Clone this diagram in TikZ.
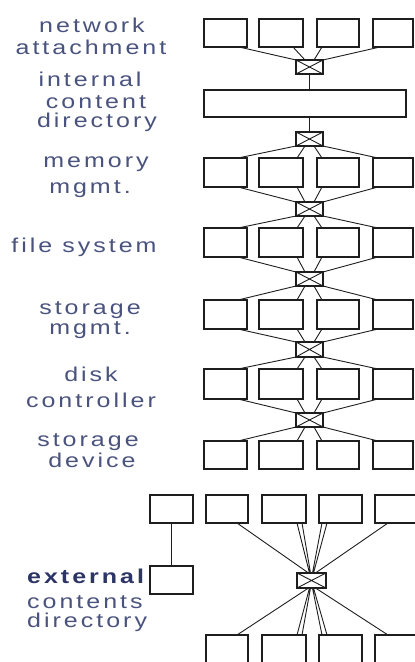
\documentclass[tikz,border=0pt]{standalone}
\usepackage{fontspec}
\setmainfont{Liberation Sans}[LetterSpace=12]
\usepackage{graphicx}
\definecolor{lbl}{HTML}{4A537E}
\definecolor{extc}{HTML}{2C3566}
\definecolor{ink}{HTML}{1E1E1E}
\newcommand\widetxt[1]{\scalebox{1.25}[1]{#1}}
\newcommand\mybox[5]{\node[box,minimum width={(#4)-(#2)},minimum height={(#5)-(#3)}] (#1) at ({((#2)+(#4))/2},{((#3)+(#5))/2}) {};}
\newcommand\myswitch[3]{\node[box,minimum width=27,minimum height={(#3)-(#2)}] (#1) at (309.5,{((#2)+(#3))/2}) {};
  \draw[wire] (#1.north west) -- (#1.south east) (#1.north east) -- (#1.south west);}
\begin{document}
\begin{tikzpicture}[x=1pt,y=-1pt,
  box/.style={draw=ink,line width=1.2pt,inner sep=0pt,outer sep=0pt,rectangle},
  wire/.style={draw=ink,line width=0.9pt},
  lab/.style={text=lbl,font=\fontsize{20}{22}\selectfont,anchor=base,inner sep=0pt},
  labl/.style={lab,anchor=base west}]
\clip (0,0) rectangle (415,662);
\fill[white] (0,0) rectangle (415,662);
% ---- upper stack ----
\mybox{n1}{204}{19}{247}{47}\mybox{n2}{259}{19}{303}{47}\mybox{n3}{317}{19}{359}{47}\mybox{n4}{373}{19}{413}{47}
\myswitch{s1}{60}{74}
\mybox{dir}{204}{90}{406}{117}
\myswitch{s2}{132}{146}
\mybox{m1}{204}{158}{247}{187}\mybox{m2}{259}{158}{303}{187}\mybox{m3}{317}{158}{359}{187}\mybox{m4}{373}{158}{413}{187}
\myswitch{s3}{202}{216}
\mybox{f1}{204}{228}{247}{257}\mybox{f2}{259}{228}{303}{257}\mybox{f3}{317}{228}{359}{257}\mybox{f4}{373}{228}{413}{257}
\myswitch{s4}{272}{286}
\mybox{g1}{204}{300}{247}{329}\mybox{g2}{259}{300}{303}{329}\mybox{g3}{317}{300}{359}{329}\mybox{g4}{373}{300}{413}{329}
\myswitch{s5}{342}{357}
\mybox{k1}{204}{369}{247}{399}\mybox{k2}{259}{369}{303}{399}\mybox{k3}{317}{369}{359}{399}\mybox{k4}{373}{369}{413}{399}
\myswitch{s6}{413}{427}
\mybox{d1}{204}{441}{247}{469}\mybox{d2}{259}{441}{303}{469}\mybox{d3}{317}{441}{359}{469}\mybox{d4}{373}{441}{413}{469}
% connectors upper stack
\draw[wire] ([xshift=-8pt]n1.south east) -- (s1.north west)
            ([xshift=-10pt]n2.south east) -- ([xshift=-4.5pt]s1.north)
            ([xshift=5pt]n3.south west) -- ([xshift=4.5pt]s1.north)
            ([xshift=7pt]n4.south west) -- (s1.north east);
\draw[wire] (s1.south) -- (dir.north -| s1.south);
\draw[wire] (dir.south -| s2.north) -- (s2.north);
\foreach \s/\r in {s2/m,s3/f,s4/g,s5/k,s6/d}{
  \draw[wire] (\s.south west) -- ([xshift=-9pt]\r1.north east)
              ([xshift=-4.5pt]\s.south) -- ([xshift=-6pt]\r2.north east)
              ([xshift=4.5pt]\s.south) -- ([xshift=5pt]\r3.north west)
              (\s.south east) -- ([xshift=5pt]\r4.north west);}
\foreach \r/\s in {m/s3,f/s4,g/s5,k/s6}{
  \draw[wire] ([xshift=-9pt]\r1.south east) -- (\s.north west)
              ([xshift=-6pt]\r2.south east) -- ([xshift=-4.5pt]\s.north)
              ([xshift=5pt]\r3.south west) -- ([xshift=4.5pt]\s.north)
              ([xshift=5pt]\r4.south west) -- (\s.north east);}
% ---- lower section ----
\mybox{t1}{150}{495}{193}{523}\mybox{t2}{206}{495}{248}{523}\mybox{t3}{262}{495}{306}{523}\mybox{t4}{319}{495}{362}{523}\mybox{t5}{375}{495}{418}{523}
\mybox{ecd}{150}{566}{193}{594}
\node[box,minimum width=29,minimum height=15] (sx) at (311.5,580.5) {};
\draw[wire] (sx.north west) -- (sx.south east) (sx.north east) -- (sx.south west);
\mybox{b1}{206}{635}{248}{690}\mybox{b2}{262}{635}{306}{690}\mybox{b3}{319}{635}{362}{690}\mybox{b4}{375}{635}{418}{690}
\draw[wire] (t1.south) -- (ecd.north);
\draw[wire] ([xshift=-11pt]t2.south east) -- ([xshift=-3pt]sx.north)
            ([xshift=-9pt]t3.south east) -- ([xshift=-2pt]sx.north)
            ([xshift=-4pt]t3.south east) -- ([xshift=-1pt]sx.north)
            ([xshift=3pt]t4.south west) -- ([xshift=1pt]sx.north)
            ([xshift=8pt]t4.south west) -- ([xshift=2pt]sx.north)
            ([xshift=13pt]t5.south west) -- ([xshift=4pt]sx.north);
\draw[wire] ([xshift=-3pt]sx.south) -- ([xshift=-11pt]b1.north east)
            ([xshift=-2pt]sx.south) -- ([xshift=-9pt]b2.north east)
            ([xshift=-1pt]sx.south) -- ([xshift=-4pt]b2.north east)
            ([xshift=1pt]sx.south) -- ([xshift=3pt]b3.north west)
            ([xshift=2pt]sx.south) -- ([xshift=8pt]b3.north west)
            ([xshift=4pt]sx.south) -- ([xshift=13pt]b4.north west);
% ---- labels ----
\node[lab] (l1) at (92,32) {\widetxt{network}};
\node[lab] (l2) at (91,54) {\widetxt{attachment}};
\node[lab] (l3) at (90,86) {\widetxt{internal}};
\node[lab] (l4) at (96,108) {\widetxt{content}};
\node[lab] (l5) at (97,127) {\widetxt{directory}};
\node[lab] (l6) at (96,167) {\widetxt{memory}};
\node[lab] (l7) at (90,193) {\widetxt{mgmt.}};
\node[lab] (l8) at (84,252) {\widetxt{file system}};
\node[lab] (l9) at (90,314) {\widetxt{storage}};
\node[lab] (l10) at (90,334) {\widetxt{mgmt.}};
\node[lab] (l11) at (91,381) {\widetxt{disk}};
\node[lab] (l12) at (91,407) {\widetxt{controller}};
\node[lab] (l13) at (88,446) {\widetxt{storage}};
\node[lab] (l14) at (92,467) {\widetxt{device}};
\node[labl,text=extc,font=\fontsize{20}{22}\selectfont\bfseries] (l15) at (27,583) {\widetxt{external}};
\node[labl] (l16) at (27,608) {\widetxt{contents}};
\node[labl] (l17) at (27,627) {\widetxt{directory}};
\end{tikzpicture}
\end{document}
